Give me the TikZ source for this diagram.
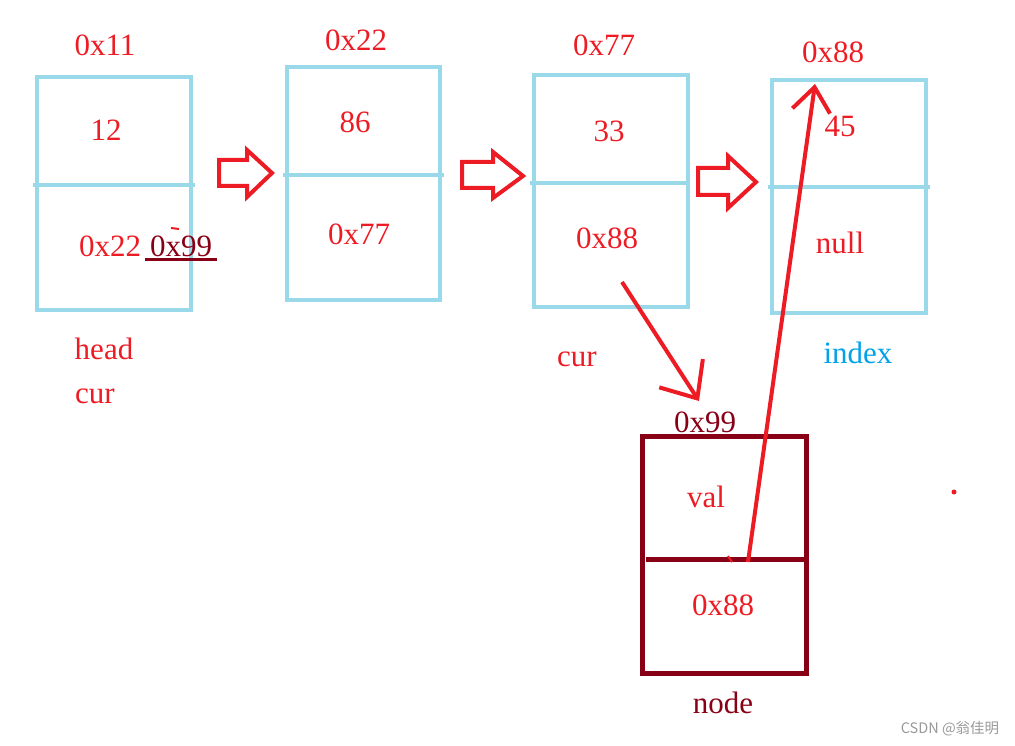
\documentclass[tikz,border=0pt]{standalone}
\usepackage{fontspec}
\setmainfont{Liberation Serif}
\newfontfamily\cjkfont{Noto Sans CJK SC}
\usetikzlibrary{arrows.meta}
\definecolor{lblue}{HTML}{99D9EA}
\definecolor{dred}{HTML}{880015}
\definecolor{rred}{HTML}{ED1C24}
\definecolor{cyanx}{HTML}{00A2E8}
\tikzset{
  cellbox/.style={draw=lblue, line width=4pt},
  nodebox/.style={draw=dred, line width=5pt},
  lbl/.style={inner sep=0pt, font=\fontsize{31}{36}\selectfont, text=rred},
  blockarrow/.style={draw=rred, line width=4pt, fill=white, line join=miter},
  link/.style={draw=rred, line width=4pt}
}
\begin{document}
\begin{tikzpicture}[x=1pt,y=-1pt]
\useasboundingbox (0,0) rectangle (1015,746);
% list boxes
\draw[cellbox] (37,77) rectangle (191,310);
\draw[cellbox] (33,185) -- (195,185);
\draw[cellbox] (287,67) rectangle (440,300);
\draw[cellbox] (283,175) -- (444,175);
\draw[cellbox] (534,75) rectangle (688,307);
\draw[cellbox] (530,183) -- (690,183);
\draw[cellbox] (772,80) rectangle (926,313);
\draw[cellbox] (768,187) -- (930,187);
% new node box
\draw[nodebox] (642,436) rectangle (806,673);
\draw[nodebox] (646,559) -- (806,559);
% block arrows
\draw[blockarrow] (219,160) -- (247,160) -- (247,150) -- (272,173) -- (247,197) -- (247,186) -- (219,186) -- cycle;
\draw[blockarrow] (462,162) -- (493,162) -- (493,152) -- (523,176) -- (493,198) -- (493,188) -- (462,188) -- cycle;
\draw[blockarrow] (698,168) -- (728,168) -- (728,156) -- (756,182) -- (728,208) -- (728,195) -- (698,195) -- cycle;
% labels
\node[lbl] (a1) at (105,45) {0x11};
\node[lbl] (a2) at (356,40) {0x22};
\node[lbl] (a3) at (604,45) {0x77};
\node[lbl] (a4) at (833,52) {0x88};
\node[lbl] (v1) at (106,130) {12};
\node[lbl] (v2) at (355,122) {86};
\node[lbl] (v3) at (609,131) {33};
\node[lbl] (v4) at (840,126) {45};
\node[lbl] (n1) at (110,246) {0x22};
\node[lbl, text=dred] (n1b) at (181,246) {0x99};
\draw[dred, line width=3pt] (145,260) -- (217,260);
\draw[rred, line width=2pt] (171,228) -- (179,229);
\node[lbl] (n2) at (359,234) {0x77};
\node[lbl] (n3) at (607,238) {0x88};
\node[lbl] (n4) at (840,243) {null};
\node[lbl] (hd) at (104,349) {head};
\node[lbl] (c1) at (95,396) {cur};
\node[lbl] (c3) at (577,359) {cur};
\node[lbl, text=cyanx] (ix) at (858,353) {index};
\node[lbl, text=dred] (na) at (705,422) {0x99};
\node[lbl] (nv) at (706,497) {val};
\node[lbl] (nn) at (723,605) {0x88};
\node[lbl, text=dred] (nd) at (723,703) {node};
\node[inner sep=0pt, text=gray!80, font=\cjkfont\fontsize{14.5}{16}\selectfont] (wm) at (950,729) {CSDN @翁佳明};
\fill[rred] (954,492) circle (2.5);
% connectors
\coordinate (s1) at (622,282);
\coordinate (t1) at (699,401);
\coordinate (s2) at (748,562);
\coordinate (t2) at (815,84);
\draw[link, -{Straight Barb[length=30pt,width=52pt,line width=4pt]}] (s1) -- (t1);
\draw[link, -{Straight Barb[length=24pt,width=38pt,line width=4pt]}] (s2) -- (t2);
\draw[rred, line width=2pt] (728,556) -- (732,562);
\end{tikzpicture}
\end{document}
